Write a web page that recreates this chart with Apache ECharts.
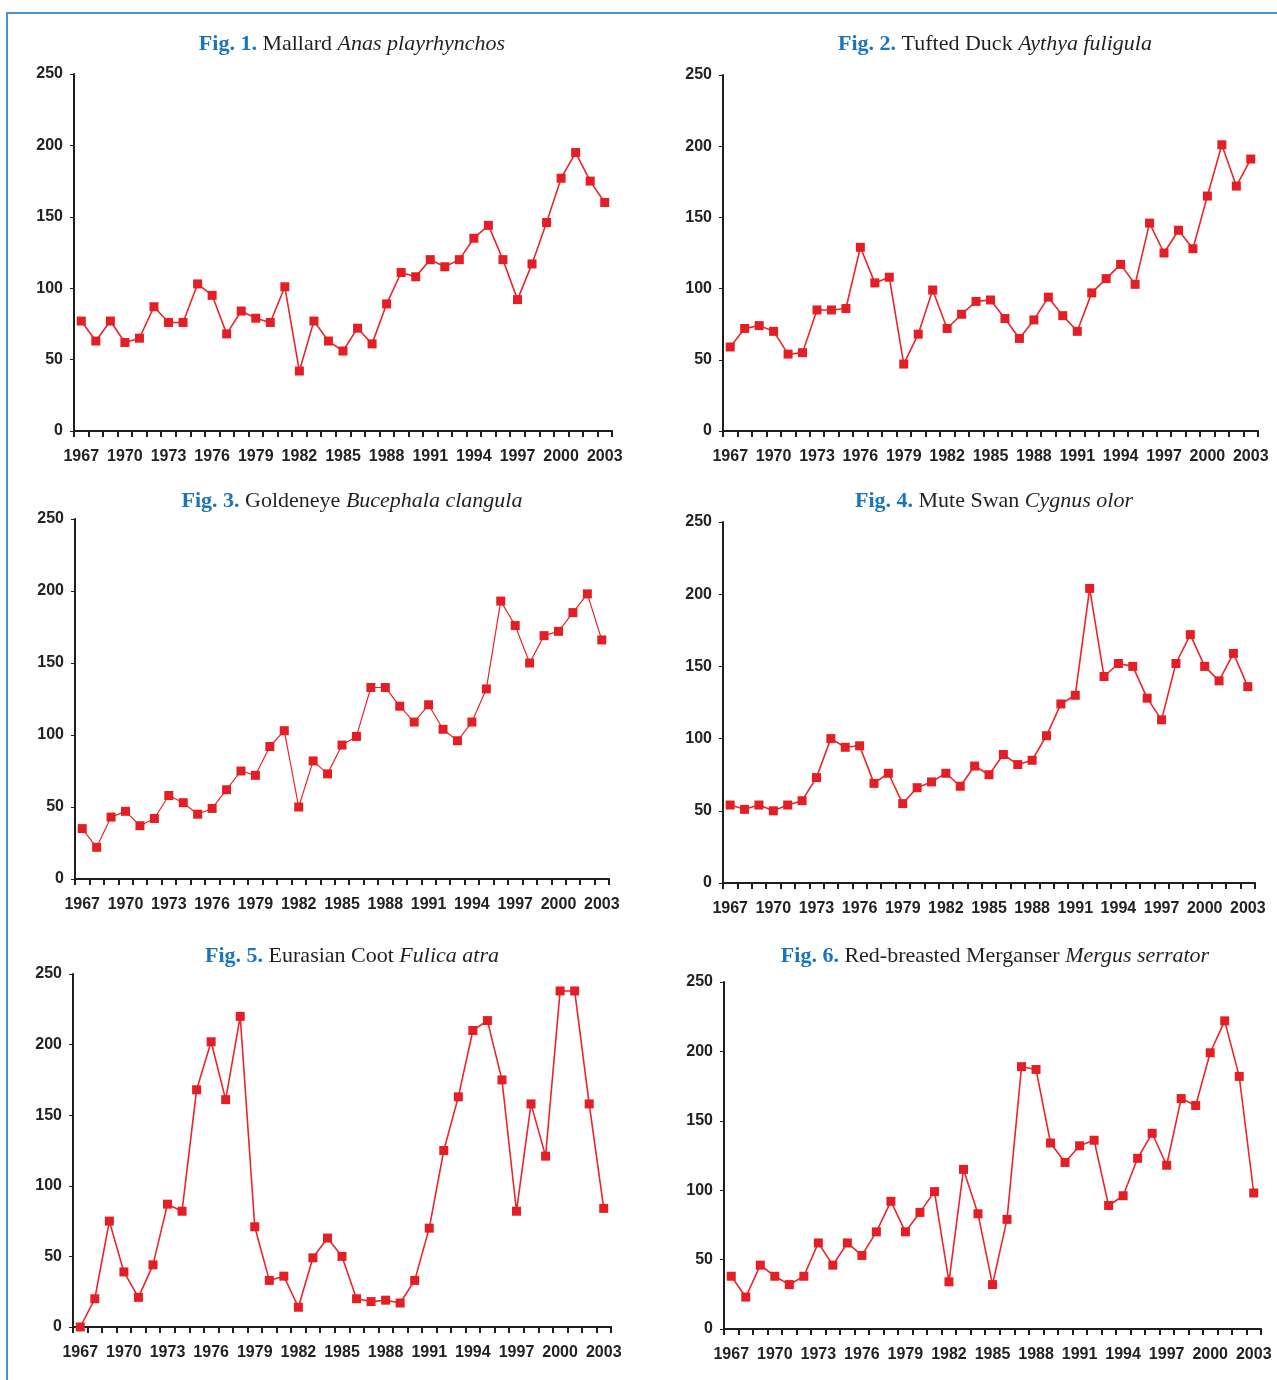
<!DOCTYPE html>
<html>
<head>
<meta charset="utf-8">
<script src="https://cdn.jsdelivr.net/npm/echarts@6/dist/echarts.min.js"></script>
<style>
html, body { margin: 0; padding: 0; background: #fff; }
#chart { width: 1277px; height: 1380px; }
</style>
</head>
<body>
<div id="chart"></div>
<script>
// years on the x axis, 1967 - 2003
var years = ['1967','1968','1969','1970','1971','1972','1973','1974','1975','1976',
    '1977','1978','1979','1980','1981','1982','1983','1984','1985','1986',
    '1987','1988','1989','1990','1991','1992','1993','1994','1995','1996',
    '1997','1998','1999','2000','2001','2002','2003'];

// index values
var mallard = [77, 63, 77, 62, 65, 87, 76, 76, 103, 95, 68, 84, 79, 76, 101, 42, 77, 63, 56, 72,
    61, 89, 111, 108, 120, 115, 120, 135, 144, 120, 92, 117, 146, 177, 195, 175, 160];
var tuftedDuck = [59, 72, 74, 70, 54, 55, 85, 85, 86, 129, 104, 108, 47, 68, 99, 72, 82, 91, 92, 79,
    65, 78, 94, 81, 70, 97, 107, 117, 103, 146, 125, 141, 128, 165, 201, 172, 191];
var goldeneye = [35, 22, 43, 47, 37, 42, 58, 53, 45, 49, 62, 75, 72, 92, 103, 50, 82, 73, 93, 99,
    133, 133, 120, 109, 121, 104, 96, 109, 132, 193, 176, 150, 169, 172, 185, 198, 166];
var muteSwan = [54, 51, 54, 50, 54, 57, 73, 100, 94, 95, 69, 76, 55, 66, 70, 76, 67, 81, 75, 89,
    82, 85, 102, 124, 130, 204, 143, 152, 150, 128, 113, 152, 172, 150, 140, 159, 136];
var coot = [0, 20, 75, 39, 21, 44, 87, 82, 168, 202, 161, 220, 71, 33, 36, 14, 49, 63, 50, 20,
    18, 19, 17, 33, 70, 125, 163, 210, 217, 175, 82, 158, 121, 238, 238, 158, 84];
var merganser = [38, 23, 46, 38, 32, 38, 62, 46, 62, 53, 70, 92, 70, 84, 99, 34, 115, 83, 32, 79,
    189, 187, 134, 120, 132, 136, 89, 96, 123, 141, 118, 166, 161, 199, 222, 182, 98];

var seriesData = [mallard, tuftedDuck, goldeneye, muteSwan, coot, merganser];
var figLabels = ['Fig. 1.', 'Fig. 2.', 'Fig. 3.', 'Fig. 4.', 'Fig. 5.', 'Fig. 6.'];
var commonNames = ['Mallard', 'Tufted Duck', 'Goldeneye', 'Mute Swan', 'Eurasian Coot', 'Red-breasted Merganser'];
var latinNames = ['Anas playrhynchos', 'Aythya fuligula', 'Bucephala clangula', 'Cygnus olor', 'Fulica atra', 'Mergus serrator'];

// panel layout (pixels)
var grids = [
    { left: 74, top: 74, width: 538, height: 357 },
    { left: 723, top: 75, width: 535, height: 356 },
    { left: 75, top: 519, width: 534, height: 360 },
    { left: 723, top: 522, width: 532, height: 361 },
    { left: 73, top: 974, width: 538, height: 353 },
    { left: 724, top: 982, width: 537, height: 347 }
];
var titlePos = [[347, 28], [990, 28], [347, 485], [989, 485], [347, 940], [990, 940]];

var axisColor = '#1e1e1e';
var lineColor = '#e8262b';
var labelFont = "'Liberation Sans', Arial, sans-serif";
var serif = "'Liberation Serif', 'Times New Roman', serif";

var chart = echarts.init(document.getElementById('chart'));

var option = {
    animation: false,
    backgroundColor: '#fff',
    title: [],
    grid: [],
    xAxis: [],
    yAxis: [],
    series: [],
    graphic: [
        { type: 'line', shape: { x1: 7, y1: 13, x2: 1277, y2: 13 }, style: { stroke: '#4a90d2', lineWidth: 2 } },
        { type: 'line', shape: { x1: 7, y1: 12, x2: 7, y2: 1380 }, style: { stroke: '#4a90d2', lineWidth: 2 } }
    ]
};

for (var i = 0; i < 6; i++) {
    option.title.push({
        text: '{f|' + figLabels[i] + '} {n|' + commonNames[i] + '} {i|' + latinNames[i] + '}',
        left: titlePos[i][0],
        top: titlePos[i][1],
        textAlign: 'center',
        textStyle: {
            fontWeight: 'normal',
            fontFamily: serif,
            fontSize: 22,
            rich: {
                f: { fontFamily: serif, fontSize: 22, fontWeight: 'bold', color: '#1b75bc' },
                n: { fontFamily: serif, fontSize: 22, fontWeight: 'normal', color: '#231f20' },
                i: { fontFamily: serif, fontSize: 22, fontWeight: 'normal', fontStyle: 'italic', color: '#231f20' }
            }
        }
    });
    option.grid.push(grids[i]);
    option.xAxis.push({
        type: 'category',
        gridIndex: i,
        data: years,
        boundaryGap: true,
        axisLine: { lineStyle: { color: axisColor, width: 2 } },
        axisTick: { show: true, interval: 0, length: 6, lineStyle: { color: axisColor, width: 2 } },
        axisLabel: {
            interval: 2,
            margin: 18,
            color: '#222',
            fontFamily: labelFont,
            fontWeight: 'bold',
            fontSize: 16
        },
        splitLine: { show: false }
    });
    option.yAxis.push({
        type: 'value',
        gridIndex: i,
        min: 0,
        max: 250,
        interval: 50,
        axisLine: { show: true, lineStyle: { color: axisColor, width: 2 } },
        axisTick: { show: true, length: 4, lineStyle: { color: axisColor, width: 1 } },
        axisLabel: {
            margin: 11,
            color: '#222',
            fontFamily: labelFont,
            fontWeight: 'bold',
            fontSize: 16
        },
        splitLine: { show: false }
    });
    option.series.push({
        type: 'line',
        xAxisIndex: i,
        yAxisIndex: i,
        data: seriesData[i],
        symbol: 'rect',
        symbolSize: 9,
        showAllSymbol: true,
        lineStyle: { color: lineColor, width: i === 2 ? 1.2 : 1.6 },
        itemStyle: { color: '#e41e25' }
    });
}

chart.setOption(option);
window.addEventListener('resize', chart.resize);
</script>
</body>
</html>
